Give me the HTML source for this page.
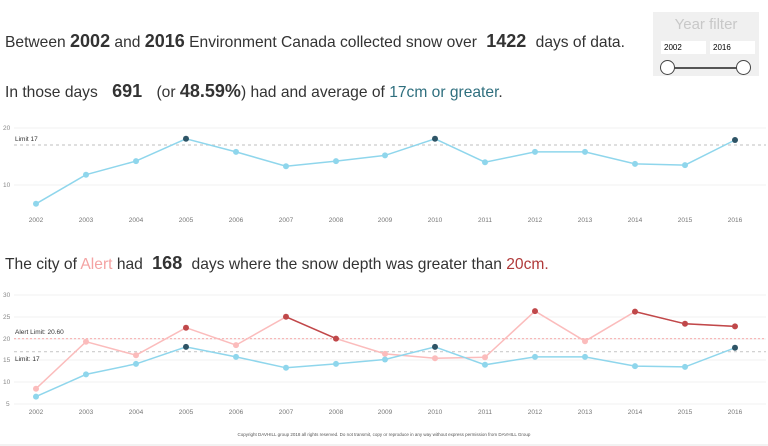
<!DOCTYPE html>
<html><head><style>
body{margin:0;width:768px;height:446px;background:#fff;font-family:"Liberation Sans",sans-serif;overflow:hidden;position:relative}
.t{position:absolute;left:5px;font-size:15.6px;color:#333;white-space:nowrap}
.t b{font-size:18px;color:#333}
</style></head><body>
<div class="t" style="top:31px">Between <b>2002</b> and <b>2016</b> Environment Canada collected snow over <b>&nbsp;1422&nbsp;</b> days of data.</div>
<div class="t" style="top:81px">In those days <b>&nbsp;&nbsp;691&nbsp;&nbsp;</b> (or <b>48.59%</b>) had and average of <span style="color:#2f6f7e">17cm or greater</span>.</div>
<div class="t" style="top:253px">The city of <span style="color:#f4a3a3">Alert</span> had <b>&nbsp;168&nbsp;</b> days where the snow depth was greater than <span style="color:#b03a3a">20cm.</span></div>
<div style="position:absolute;left:653px;top:12px;width:106px;height:64px;background:#f0f0f0">
<div style="text-align:center;font-size:15px;color:#c8c8c8;margin-top:4px">Year filter</div>
<div style="position:absolute;left:8px;top:29px;width:42px;height:13px;background:#fff;font-size:8px;line-height:13px;padding-left:3px">2002</div>
<div style="position:absolute;left:57px;top:29px;width:42px;height:13px;background:#fff;font-size:8px;line-height:13px;padding-left:3px">2016</div>
<div style="position:absolute;left:14px;top:55px;width:78px;height:2px;background:#555"></div>
<div style="position:absolute;left:7px;top:48px;width:13px;height:13px;border:1.5px solid #444;border-radius:50%;background:#fff"></div>
<div style="position:absolute;left:83px;top:48px;width:13px;height:13px;border:1.5px solid #444;border-radius:50%;background:#fff"></div>
</div>
<svg width="768" height="446" style="position:absolute;left:0;top:0" font-family="Liberation Sans,sans-serif">
<g stroke="#f0f0f0" stroke-width="1">
<line x1="14" x2="766" y1="128" y2="128"/><line x1="14" x2="766" y1="185" y2="185"/>
<line x1="14" x2="766" y1="295" y2="295"/><line x1="14" x2="766" y1="317" y2="317"/><line x1="14" x2="766" y1="339" y2="339"/><line x1="14" x2="766" y1="360" y2="360"/><line x1="14" x2="766" y1="382" y2="382"/><line x1="14" x2="766" y1="404" y2="404"/>
</g>
<g font-size="6.5" fill="#888">
<text x="3" y="130">20</text><text x="3" y="187">10</text>
<text x="3" y="297">30</text><text x="3" y="319">25</text><text x="3" y="341">20</text><text x="3" y="362">15</text><text x="3" y="384">10</text><text x="6" y="406">5</text>
</g>
<g font-size="6.5" fill="#777" text-anchor="middle">
<text x="36" y="222">2002</text><text x="86" y="222">2003</text><text x="136" y="222">2004</text><text x="186" y="222">2005</text><text x="236" y="222">2006</text><text x="286" y="222">2007</text><text x="336" y="222">2008</text><text x="385" y="222">2009</text><text x="435" y="222">2010</text><text x="485" y="222">2011</text><text x="535" y="222">2012</text><text x="585" y="222">2013</text><text x="635" y="222">2014</text><text x="685" y="222">2015</text><text x="735" y="222">2016</text>
<text x="36" y="414">2002</text><text x="86" y="414">2003</text><text x="136" y="414">2004</text><text x="186" y="414">2005</text><text x="236" y="414">2006</text><text x="286" y="414">2007</text><text x="336" y="414">2008</text><text x="385" y="414">2009</text><text x="435" y="414">2010</text><text x="485" y="414">2011</text><text x="535" y="414">2012</text><text x="585" y="414">2013</text><text x="635" y="414">2014</text><text x="685" y="414">2015</text><text x="735" y="414">2016</text>
</g>
<line x1="14" x2="766" y1="145" y2="145" stroke="#ccc" stroke-dasharray="3,3" stroke-width="1.2"/>
<text x="15" y="141" font-size="6.5" fill="#333">Limit 17</text>
<polyline fill="none" stroke="#8fd6ec" stroke-width="1.5" points="36,203.8 86,174.7 136,161.1 186,138.8 236,151.9 286,166.2 336,161.1 385,155.4 435,138.8 485,162.2 535,151.9 585,151.9 635,163.9 685,165.1 735,140"/>
<g fill="#8fd6ec"><circle cx="36" cy="203.8" r="3"/><circle cx="86" cy="174.7" r="3"/><circle cx="136" cy="161.1" r="3"/><circle cx="236" cy="151.9" r="3"/><circle cx="286" cy="166.2" r="3"/><circle cx="336" cy="161.1" r="3"/><circle cx="385" cy="155.4" r="3"/><circle cx="485" cy="162.2" r="3"/><circle cx="535" cy="151.9" r="3"/><circle cx="585" cy="151.9" r="3"/><circle cx="635" cy="163.9" r="3"/><circle cx="685" cy="165.1" r="3"/></g>
<g fill="#2e5466"><circle cx="186" cy="138.8" r="3"/><circle cx="435" cy="138.8" r="3"/><circle cx="735" cy="140" r="3"/></g>

<line x1="14" x2="766" y1="338.6" y2="338.6" stroke="#f7b8b8" stroke-dasharray="2,2" stroke-width="1.2"/>
<line x1="14" x2="766" y1="351.7" y2="351.7" stroke="#ccc" stroke-dasharray="3,3" stroke-width="1.2"/>
<text x="15" y="334" font-size="6.5" fill="#333">Alert Limit: 20.60</text>
<text x="15" y="361" font-size="6.5" fill="#333">Limit: 17</text>
<polyline fill="none" stroke="#fbbcbc" stroke-width="1.5" points="36,388.7 86,341.7 136,355.2 186,327.7 236,345.1 286,316.8 336,338.6 385,353.9 435,358.2 485,357.3 535,311.1 585,341.2 635,311.6 685,323.8 735,326.4"/>
<polyline fill="none" stroke="#c0484a" stroke-width="1.5" points="286,316.8 336,338.6"/>
<polyline fill="none" stroke="#c0484a" stroke-width="1.5" points="635,311.6 685,323.8 735,326.4"/>
<g fill="#fbbcbc"><circle cx="36" cy="388.7" r="3"/><circle cx="86" cy="341.7" r="3"/><circle cx="136" cy="355.2" r="3"/><circle cx="236" cy="345.1" r="3"/><circle cx="385" cy="353.9" r="3"/><circle cx="435" cy="358.2" r="3"/><circle cx="485" cy="357.3" r="3"/><circle cx="585" cy="341.2" r="3"/></g>
<g fill="#c0484a"><circle cx="186" cy="327.7" r="3"/><circle cx="286" cy="316.8" r="3"/><circle cx="336" cy="338.6" r="3"/><circle cx="535" cy="311.1" r="3"/><circle cx="635" cy="311.6" r="3"/><circle cx="685" cy="323.8" r="3"/><circle cx="735" cy="326.4" r="3"/></g>
<polyline fill="none" stroke="#8fd6ec" stroke-width="1.5" points="36,396.6 86,374.4 136,363.9 186,346.9 236,356.9 286,367.8 336,363.9 385,359.5 435,346.9 485,364.8 535,356.9 585,356.9 635,366.1 685,366.9 735,347.8"/>
<g fill="#8fd6ec"><circle cx="36" cy="396.6" r="3"/><circle cx="86" cy="374.4" r="3"/><circle cx="136" cy="363.9" r="3"/><circle cx="236" cy="356.9" r="3"/><circle cx="286" cy="367.8" r="3"/><circle cx="336" cy="363.9" r="3"/><circle cx="385" cy="359.5" r="3"/><circle cx="485" cy="364.8" r="3"/><circle cx="535" cy="356.9" r="3"/><circle cx="585" cy="356.9" r="3"/><circle cx="635" cy="366.1" r="3"/><circle cx="685" cy="366.9" r="3"/></g>
<g fill="#2e5466"><circle cx="186" cy="346.9" r="3"/><circle cx="435" cy="346.9" r="3"/><circle cx="735" cy="347.8" r="3"/></g>
<text x="384" y="436" font-size="4.5" fill="#555" text-anchor="middle">Copyright DAVHILL group 2018 all rights reserved. Do not transmit, copy or reproduce in any way without express permission from DAVHILL Group</text>
<line x1="0" x2="768" y1="445" y2="445" stroke="#e5e5e5"/>
</svg>
</body></html>
